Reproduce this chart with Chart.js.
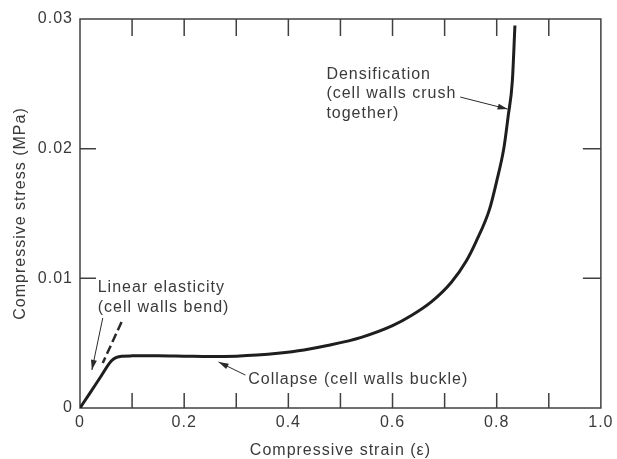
<!DOCTYPE html>
<html>
<head>
<meta charset="utf-8">
<script src="https://cdn.jsdelivr.net/npm/chart.js@4.4.0/dist/chart.umd.min.js"></script>
<style>
  html, body { margin: 0; padding: 0; background: #fff; }
</style>
</head>
<body>
<canvas id="myChart" width="617" height="459"></canvas>
<script>
// stress-strain curve of an elastomeric foam in compression
const strain = [0, 0.02, 0.04, 0.06, 0.07, 0.08, 0.1, 0.15, 0.2, 0.25, 0.3, 0.34, 0.38, 0.43, 0.475, 0.54, 0.6, 0.637, 0.675, 0.713, 0.741, 0.76, 0.786, 0.8, 0.814, 0.822, 0.83, 0.835]
const stress = [0, 0.00121, 0.00243, 0.00362, 0.0039, 0.004, 0.00402, 0.00403, 0.004, 0.00397, 0.004, 0.00408, 0.00422, 0.00448, 0.00482, 0.00545, 0.00635, 0.00715, 0.0082, 0.0097, 0.0113, 0.0128, 0.0153, 0.0175, 0.0201, 0.0225, 0.0252, 0.0295]

const xTickLabels = ['0', '0.2', '0.4', '0.6', '0.8', '1.0']
const yTickLabels = ['0', '0.01', '0.02', '0.03']
const xInnerTicks = [0.1, 0.2, 0.3, 0.4, 0.5, 0.6, 0.7, 0.8, 0.9]
const yInnerTicks = [0.01, 0.02]

const INK = '#3a3a3a'
const FONT = "'Liberation Sans', Arial, sans-serif"

// callouts, placed in data units
const notes = [
  { lines: ['Densification', '(cell walls crush', 'together)'], x: 0.473, y: 0.02575 },
  { lines: ['Linear elasticity', '(cell walls bend)'], x: 0.034, y: 0.00925 },
  { lines: ['Collapse (cell walls buckle)'], x: 0.323, y: 0.00216 }
]
const arrows = [
  { from: [0.73, 0.02398], to: [0.821, 0.02305] },
  { from: [0.0437, 0.00694], to: [0.0228, 0.00293] },
  { from: [0.3175, 0.00254], to: [0.266, 0.00355] }
]
const slopeGuide = { from: [0.0798, 0.00663], to: [0.0437, 0.00347] }

function arrowHead(ctx, x0, y0, x1, y1) {
  const a = Math.atan2(y1 - y0, x1 - x0)
  const len = 10, half = 3
  ctx.beginPath()
  ctx.moveTo(x1, y1)
  ctx.lineTo(x1 - len * Math.cos(a) + half * Math.sin(a), y1 - len * Math.sin(a) - half * Math.cos(a))
  ctx.lineTo(x1 - len * Math.cos(a) - half * Math.sin(a), y1 - len * Math.sin(a) + half * Math.cos(a))
  ctx.closePath()
  ctx.fill()
}

const framePlugin = {
  id: 'frame',
  beforeDraw(chart) {
    chart.ctx.letterSpacing = '1px'
  },
  beforeDatasetsDraw(chart) {
    const { ctx, chartArea: a, scales: { x, y } } = chart
    ctx.save()
    ctx.strokeStyle = '#404040'
    ctx.lineWidth = 1.5
    ctx.strokeRect(a.left, a.top, a.right - a.left, a.bottom - a.top)
    ctx.beginPath()
    xInnerTicks.forEach(v => {
      const px = x.getPixelForValue(v)
      ctx.moveTo(px, a.bottom); ctx.lineTo(px, a.bottom - 15)
      ctx.moveTo(px, a.top); ctx.lineTo(px, a.top + 17)
    })
    yInnerTicks.forEach(v => {
      const py = y.getPixelForValue(v)
      ctx.moveTo(a.left, py); ctx.lineTo(a.left + 16, py)
      ctx.moveTo(a.right, py); ctx.lineTo(a.right - 18, py)
    })
    ctx.stroke()
    ctx.restore()
  },
  afterDatasetsDraw(chart) {
    const { ctx, scales: { x, y } } = chart
    const px = p => [x.getPixelForValue(p[0]), y.getPixelForValue(p[1])]
    ctx.save()
    ctx.fillStyle = INK
    ctx.font = '16px ' + FONT
    ctx.textAlign = 'left'
    ctx.textBaseline = 'middle'
    notes.forEach(n => {
      const [tx, ty] = px([n.x, n.y])
      n.lines.forEach((s, i) => ctx.fillText(s, tx, ty + i * 19.5))
    })

    ctx.strokeStyle = '#2a2a2a'
    ctx.fillStyle = '#2a2a2a'
    ctx.lineWidth = 1
    arrows.forEach(ar => {
      const [x0, y0] = px(ar.from)
      const [x1, y1] = px(ar.to)
      ctx.beginPath()
      ctx.moveTo(x0, y0)
      ctx.lineTo(x1, y1)
      ctx.stroke()
      arrowHead(ctx, x0, y0, x1, y1)
    })

    // dashed guide along the initial slope
    const [g0x, g0y] = px(slopeGuide.from)
    const [g1x, g1y] = px(slopeGuide.to)
    ctx.lineWidth = 2.5
    ctx.setLineDash([9, 4])
    ctx.beginPath()
    ctx.moveTo(g0x, g0y)
    ctx.lineTo(g1x, g1y)
    ctx.stroke()
    ctx.restore()
  }
}

const ctx = document.getElementById('myChart')
const myChart = new Chart(ctx, {
  type: 'line',
  data: {
    datasets: [{
      data: strain.map((s, i) => ({ x: s, y: stress[i] })),
      borderColor: '#1e1e1e',
      borderWidth: 3,
      pointRadius: 0,
      cubicInterpolationMode: 'monotone',
      fill: false
    }]
  },
  options: {
    responsive: false,
    animation: false,
    layout: { padding: { top: 19, right: 11, left: 0, bottom: 0 } },
    plugins: {
      legend: { display: false },
      tooltip: { enabled: false }
    },
    scales: {
      x: {
        type: 'linear',
        min: 0,
        max: 1,
        grid: { display: false, drawTicks: false },
        border: { display: false },
        ticks: {
          stepSize: 0.2,
          padding: 5,
          color: INK,
          font: { family: FONT, size: 16 },
          maxRotation: 0,
          callback: (v, i) => xTickLabels[i]
        },
        title: {
          display: true,
          text: 'Compressive strain (\u03b5)',
          color: INK,
          font: { family: FONT, size: 16, lineHeight: 1 },
          padding: { top: 0, bottom: 0 }
        },
        afterFit: s => { s.height = 51 }
      },
      y: {
        min: 0,
        max: 0.03,
        grid: { display: false, drawTicks: false },
        border: { display: false },
        ticks: {
          stepSize: 0.01,
          padding: 7,
          color: INK,
          font: { family: FONT, size: 16 },
          callback: (v, i) => yTickLabels[i]
        },
        title: {
          display: true,
          text: 'Compressive stress (MPa)',
          color: INK,
          font: { family: FONT, size: 16 },
          padding: { top: 11, bottom: 0 }
        },
        afterFit: s => { s.width = 80 }
      }
    }
  },
  plugins: [framePlugin]
})
</script>
</body>
</html>
